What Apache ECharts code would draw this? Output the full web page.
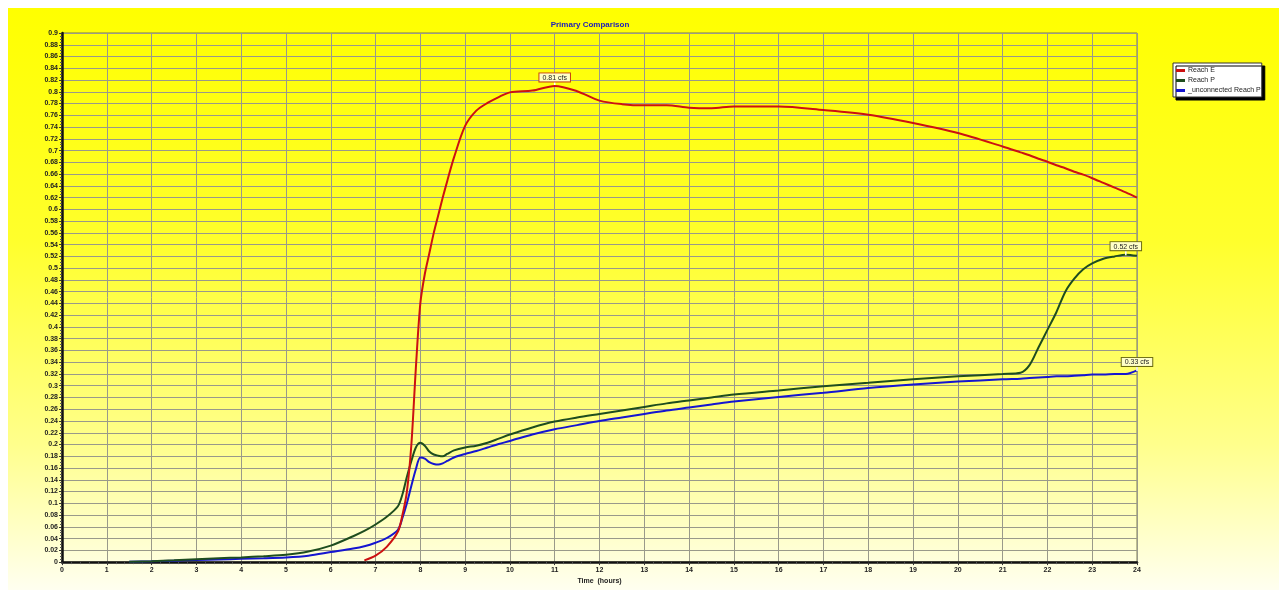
<!DOCTYPE html>
<html>
<head>
<meta charset="utf-8">
<script src="https://cdn.jsdelivr.net/npm/echarts@6/dist/echarts.min.js"></script>
<style>
html,body{margin:0;padding:0;background:#fff;}
#chart{width:1279px;height:590px;}
</style>
</head>
<body>
<div id="chart"></div>
<script>
// ---- data (time in hours, flow in cfs) ----
const times = [0,1,1.5,2,2.5,3,3.5,4,4.5,5,5.5,6,6.5,6.75,7,7.25,7.5,7.6,7.7,7.8,7.9,8,8.1,8.2,8.3,8.4,8.5,8.6,8.75,9,9.25,9.5,9.75,10,10.5,11,11.5,12,12.5,13,13.5,14,14.5,15,16,17,18,19,20,21,21.4,21.6,21.8,22,22.2,22.4,22.6,22.8,23,23.25,23.5,23.75,24];
const reachE = [null,null,null,null,null,null,null,null,null,null,null,null,null,0.003,0.011,0.026,0.052,0.08,0.12,0.2,0.33,0.44,0.49,0.525,0.56,0.59,0.62,0.648,0.688,0.742,0.768,0.781,0.791,0.799,0.802,0.81,0.801,0.785,0.779,0.777,0.777,0.773,0.772,0.775,0.775,0.769,0.761,0.747,0.730,0.707,0.697,0.692,0.686,0.681,0.675,0.670,0.664,0.659,0.653,0.645,0.637,0.629,0.62];
const reachP = [null,null,0.0005,0.0015,0.003,0.005,0.0065,0.008,0.01,0.0125,0.018,0.028,0.044,0.053,0.064,0.077,0.095,0.115,0.145,0.172,0.195,0.203,0.198,0.188,0.183,0.181,0.18,0.184,0.19,0.195,0.198,0.203,0.21,0.217,0.229,0.239,0.246,0.252,0.258,0.264,0.27,0.275,0.28,0.285,0.292,0.299,0.305,0.311,0.316,0.32,0.322,0.335,0.365,0.395,0.425,0.46,0.482,0.498,0.508,0.516,0.52,0.523,0.521];
const unconnectedReachP = [null,null,0.0005,0.0013,0.0025,0.0035,0.0045,0.0055,0.0065,0.008,0.011,0.017,0.023,0.027,0.033,0.041,0.055,0.075,0.1,0.13,0.158,0.178,0.176,0.17,0.167,0.166,0.168,0.172,0.178,0.184,0.189,0.195,0.201,0.206,0.217,0.226,0.233,0.24,0.246,0.252,0.258,0.263,0.268,0.273,0.281,0.288,0.296,0.302,0.307,0.311,0.312,0.313,0.314,0.315,0.316,0.316,0.317,0.318,0.319,0.319,0.32,0.32,0.326];
const seriesNames = ['Reach E','Reach P','_unconnected Reach P'];
const seriesColors = ['#cc1111','#1e4d1e','#1515d0'];
const labelBorders = ['#c84010','#6b6b10','#6b6b10'];
const titleText = 'Primary Comparison';
const xName = 'Time  (hours)';

const chart = echarts.init(document.getElementById('chart'));
const FONT = 'Liberation Sans, Arial, sans-serif';

function pairs(vals){ return times.map((t,i)=>[t, vals[i]]); }
function peak(vals){
  let bi=0; vals.forEach((v,i)=>{ if(v!=null && v>=(vals[bi]||0)) bi=i; });
  return {coord:[times[bi], vals[bi]], value: vals[bi]};
}

const allVals = [reachE, reachP, unconnectedReachP];
const series = allVals.map((vals, k) => ({
  name: seriesNames[k],
  type: 'line',
  data: pairs(vals),
  showSymbol: false,
  symbol: 'none',
  smooth: 0.3,
  connectNulls: false,
  lineStyle: {color: seriesColors[k], width: 2},
  itemStyle: {color: seriesColors[k]},
  z: 5 - k,
  markPoint: {
    symbol: 'rect',
    symbolSize: [1.5, 5],
    symbolOffset: [0, -2],
    itemStyle: {color: '#ffffff'},
    label: {
      show: true,
      position: 'top',
      distance: 0,
      formatter: p => p.value.toFixed(2) + ' cfs',
      backgroundColor: '#ffffc8',
      borderColor: labelBorders[k],
      borderWidth: 1,
      padding: [1, 3, 0, 3],
      fontSize: 7,
      fontFamily: FONT,
      color: '#222'
    },
    data: [peak(vals)]
  }
}));

chart.setOption({
  backgroundColor: '#ffffff',
  animation: false,
  graphic: [{
    type: 'rect',
    left: 8, top: 8, z: -10, silent: true,
    shape: {width: 1271, height: 582},
    style: {
      fill: new echarts.graphic.LinearGradient(0,0,0,1,[
        {offset:0, color:'#ffff00'},
        {offset:0.4, color:'#ffff2c'},
        {offset:0.75, color:'#ffff8c'},
        {offset:1, color:'#fffff0'}
      ])
    }
  }],
  title: {
    text: titleText,
    left: 585, top: 16,
    textAlign: 'center',
    textStyle: {color: '#2020b8', fontSize: 8, fontWeight: 'bold', fontFamily: FONT}
  },
  legend: {
    orient: 'vertical',
    left: 1173, top: 63,
    itemWidth: 9, itemHeight: 3, itemGap: 1,
    icon: 'rect',
    backgroundColor: '#ffffff',
    borderColor: '#333',
    borderWidth: 1,
    padding: [3, 1, 2, 3],
    shadowColor: '#000',
    shadowOffsetX: 3, shadowOffsetY: 3, shadowBlur: 0,
    textStyle: {fontSize: 7, color: '#222', fontFamily: FONT, padding: [0,0,0,-2], lineHeight: 9},
    data: seriesNames
  },
  grid: {
    left: 62, right: 142, top: 33, bottom: 27,
    show: true, borderColor: '#7a7a50', borderWidth: 1,
    backgroundColor: 'transparent'
  },
  xAxis: {
    type: 'value', min: 0, max: 24, interval: 1,
    name: xName, nameLocation: 'middle', nameGap: 13,
    nameTextStyle: {fontSize: 7, fontWeight: 'bold', color: '#222', fontFamily: FONT},
    axisLine: {show: true, onZero: false, lineStyle: {color: '#111', width: 2.5}},
    axisTick: {show: true, length: 3, lineStyle: {color: '#333'}},
    minorTick: {show: true, splitNumber: 5, length: 2, lineStyle: {color: '#555'}},
    axisLabel: {fontSize: 7, fontWeight: 'bold', color: '#222', margin: 4, fontFamily: FONT},
    splitLine: {show: true, lineStyle: {color: '#9a9a8a', width: 1}}
  },
  yAxis: {
    type: 'value', min: 0, max: 0.9, interval: 0.02,
    axisLine: {show: true, onZero: false, lineStyle: {color: '#111', width: 2.5}},
    axisTick: {show: true, length: 3, lineStyle: {color: '#333'}},
    minorTick: {show: true, splitNumber: 4, length: 2, lineStyle: {color: '#555'}},
    axisLabel: {
      fontSize: 7, fontWeight: 'bold', color: '#222', margin: 4, fontFamily: FONT,
      formatter: v => String(+v.toFixed(2))
    },
    splitLine: {show: true, lineStyle: {color: '#9a9a8a', width: 1}}
  },
  series: series
});
</script>
</body>
</html>
